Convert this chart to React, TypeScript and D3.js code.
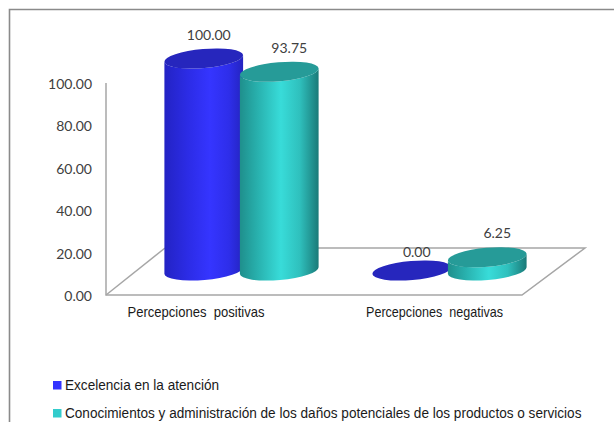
import React from "react";
import * as d3 from "d3";

const categories = ["Percepciones  positivas", "Percepciones  negativas"];
const seriesNames = [
  "Excelencia en la atención",
  "Conocimientos y administración de los daños potenciales de los productos o servicios",
];
const excelencia = [100.0, 0.0];
const conocimientos = [93.75, 6.25];
const seriesValues = [excelencia, conocimientos];
const axisTicks = [0, 20, 40, 60, 80, 100];

const capColors = ["#2626bd", "#269b98"];
const swatchColors = ["#3333ff", "#33cccc"];
const sideStops = [
  [["0%", "#2323c4"], ["30%", "#2c2ce6"], ["58%", "#3535ff"], ["82%", "#2e2eea"], ["100%", "#2424c0"]],
  [["0%", "#1f8f8c"], ["22%", "#28b0ad"], ["52%", "#38dcd9"], ["76%", "#2fc0bd"], ["100%", "#1a7a78"]],
];

const y = d3.scaleLinear().domain([0, 100]).range([295, 83]);
const groupX = d3.scaleBand<string>().domain(categories).range([137.5, 553.5]);
const barX = d3.scaleBand<number>().domain([0, 1]).range([-75.5, 75.5]);
const labelX = d3.scalePoint<string>().domain(categories).range([196, 434.5]);

// Floor parallelogram corners and the shift from the front edge to the bar centres.
const FRONT_L = 106;
const FRONT_R = 522;
const DEPTH_X = 59;
const DEPTH_Y = 47;
const BASE_SHIFT = 24.5;
const RX = 39.5;
const RY = 9.5;
const TILT = -5;
// Legend text is set condensed.
const LEGEND_SQUEEZE = 0.907;

const rad = (TILT * Math.PI) / 180;
const dx = RX * Math.cos(rad);
const dy = RX * Math.sin(rad);

function Cylinder({ cx, value, s }: { cx: number; value: number; s: number }) {
  const top = y(value) - BASE_SHIFT;
  const base = y(0) - BASE_SHIFT;
  const body =
    `M${cx + dx},${top + dy} L${cx + dx},${base + dy} ` +
    `A${RX},${RY} ${TILT} 0 1 ${cx - dx},${base - dy} ` +
    `L${cx - dx},${top - dy} A${RX},${RY} ${TILT} 0 0 ${cx + dx},${top + dy} Z`;
  return (
    <g>
      {value > 0 && <path d={body} fill={`url(#side${s})`} />}
      <ellipse
        cx={cx}
        cy={top}
        rx={RX}
        ry={RY}
        fill={capColors[s]}
        transform={`rotate(${TILT} ${cx} ${top})`}
      />
    </g>
  );
}

export default function App() {
  const labelFont = "Lato, 'Open Sans', sans-serif";
  const bodyFont = "'Liberation Sans', Arial, sans-serif";
  return (
    <svg
      width={614}
      height={422}
      style={{ position: "absolute", left: 0, top: 0, background: "#fff" }}
    >
      <defs>
        {sideStops.map((stops, s) => (
          <linearGradient key={s} id={`side${s}`} x1="0" x2="1" y1="0" y2="0">
            {stops.map(([o, c]) => (
              <stop key={o} offset={o} stopColor={c} />
            ))}
          </linearGradient>
        ))}
      </defs>

      {/* outer chart border, cut off by the page edge */}
      <path d="M9.5,422 V9.5 H614" fill="none" stroke="#8a8a8a" strokeWidth={1.6} />

      {/* value axis wall and floor */}
      <g fill="none" stroke="#a6a6a6" strokeWidth={1.5}>
        <path d={`M${FRONT_L},${y(100)} V${y(0)} H${FRONT_R} L${FRONT_R + DEPTH_X + 4},${y(0) - DEPTH_Y} H${FRONT_L + DEPTH_X}`} />
        <path d={`M${FRONT_L},${y(0)} L${FRONT_L + DEPTH_X},${y(0) - DEPTH_Y}`} />
      </g>

      {axisTicks.map((t) => (
        <text
          key={t}
          x={92}
          y={y(t) + 6}
          textAnchor="end"
          fontFamily={labelFont}
          fontSize={14}
          fill="#404040"
        >
          {d3.format(".2f")(t)}
        </text>
      ))}

      {/* drawn in series order so the second series overlaps the first */}
      {categories.map((c, i) =>
        seriesValues.map((vals, s) => {
          const cx = groupX(c)! + groupX.bandwidth() / 2 + barX(s)! + barX.bandwidth() / 2;
          return <Cylinder key={`${c}${s}`} cx={cx} value={vals[i]} s={s} />;
        })
      )}

      {categories.map((c, i) =>
        seriesValues.map((vals, s) => {
          const cx = groupX(c)! + groupX.bandwidth() / 2 + barX(s)! + barX.bandwidth() / 2;
          const lift = vals[i] === 0 ? 14 : 19;
          return (
            <text
              key={`${c}${s}`}
              x={cx + (s === 0 ? 5 : 10)}
              y={y(vals[i]) - BASE_SHIFT - lift}
              textAnchor="middle"
              fontFamily={labelFont}
              fontSize={14}
              fill="#404040"
            >
              {d3.format(".2f")(vals[i])}
            </text>
          );
        })
      )}

      {categories.map((c) => (
        <text
          key={c}
          x={labelX(c)!}
          y={317}
          textAnchor="middle"
          fontFamily={bodyFont}
          fontSize={15}
          fill="#1a1a1a"
          textLength={137}
          lengthAdjust="spacingAndGlyphs"
          xmlSpace="preserve"
        >
          {c}
        </text>
      ))}

      {seriesNames.map((n, s) => (
        <g key={n} transform={`translate(0,${s * 28})`}>
          <rect x={53} y={381} width={8.5} height={8.5} fill={swatchColors[s]} />
          <text
            transform={`translate(65,390) scale(${LEGEND_SQUEEZE},1)`}
            fontFamily={bodyFont}
            fontSize={15}
            fill="#1a1a1a"
          >
            {n}
          </text>
        </g>
      ))}
    </svg>
  );
}
